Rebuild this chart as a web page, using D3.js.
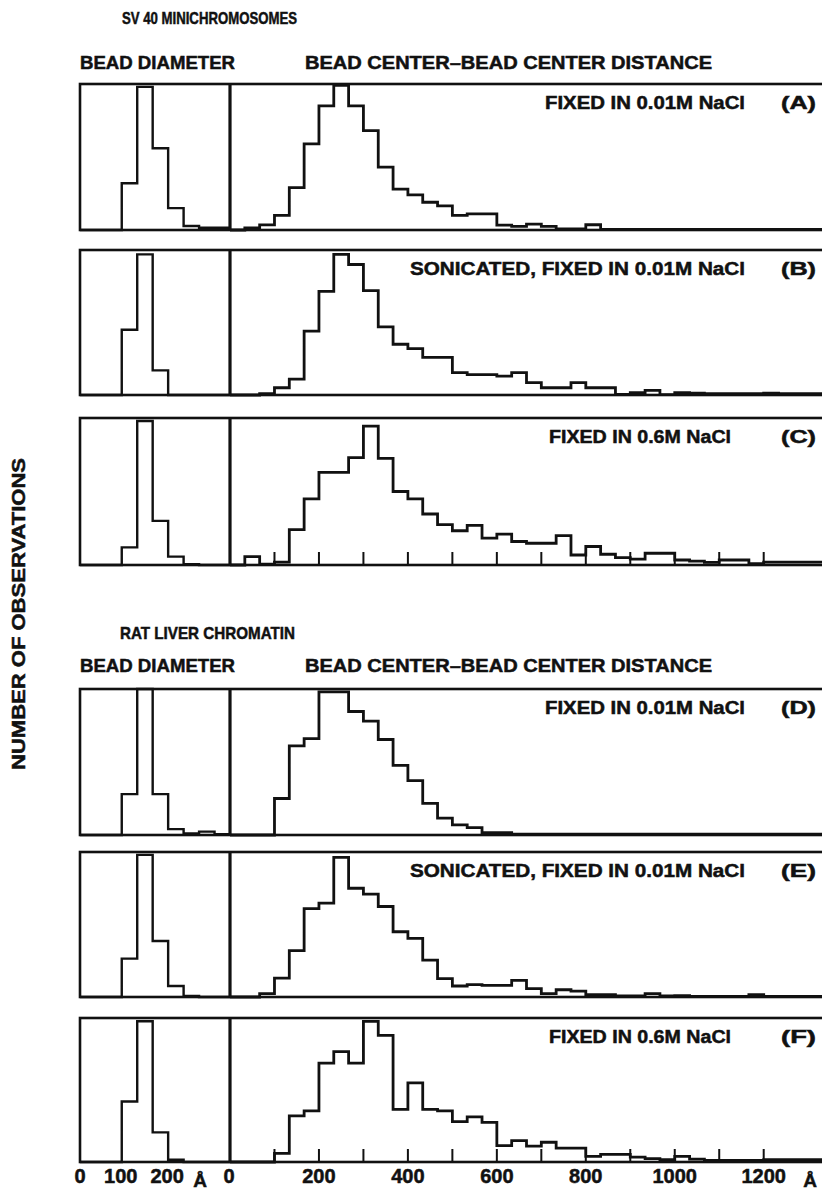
<!DOCTYPE html>
<html>
<head>
<meta charset="utf-8">
<script src="https://cdn.jsdelivr.net/npm/d3@7"></script>
<style>
  body { margin: 0; background: #fff; }
  svg { display: block; }
  text { font-family: "Liberation Sans", Arial, sans-serif; font-weight: bold; fill: #111; stroke: #111; stroke-width: 0.5px; }
</style>
</head>
<body>
<svg id="chart" width="822" height="1192"></svg>
<script>
// bin width in angstrom, both histograms
const BIN = 100 / 3;

// panel names and captions
const panelIds = ['A', 'B', 'C', 'D', 'E', 'F'];
const panelCaptions = [
  'FIXED IN 0.01M NaCl',
  'SONICATED, FIXED IN 0.01M NaCl',
  'FIXED IN 0.6M NaCl',
  'FIXED IN 0.01M NaCl',
  'SONICATED, FIXED IN 0.01M NaCl',
  'FIXED IN 0.6M NaCl'
];

// bead diameter histograms (relative counts, 0-100 of panel height), bins of 33.3 A from 0
const diamA = [0, 0, 0, 32, 98, 56, 15, 2.7, 1.5, 1.5];
const diamB = [0, 0, 0, 45, 97, 17, 0, 0, 0, 0];
const diamC = [0, 0, 0, 12, 98, 30, 5.7, 0.5, 0, 0];
const diamD = [0, 0, 0, 28, 100, 28, 4, 1, 2.3, 0.5];
const diamE = [0, 0, 0, 26.5, 98, 38.6, 7.6, 0.7, 0, 0];
const diamF = [0, 0, 0, 42, 97.7, 20.6, 1.6, 0, 0, 0];

// bead center - bead center distance histograms, bins of 33.3 A from 0
const distA = [0, 1.5, 3.5, 10, 29, 59, 85, 99, 85, 68, 43, 28, 24, 19, 16.5, 10, 11, 11, 3.4, 2.5,
  4, 2.5, 0.7, 0.7, 3.6, 0.4, 0.4, 0.4, 0.4, 0.4, 0.4, 0.4, 0.4, 0.4, 0.4, 0.4, 0.4, 0.4, 0.4, 0.4];
const distB = [0, 0, 1, 5, 11, 44, 71.5, 97, 90, 72, 47, 35, 32, 26, 26, 15.5, 14, 14, 13, 15.5,
  8.5, 5, 5, 8.5, 5, 5, 0.5, 1.6, 3.2, 0.3, 1.6, 1.2, 1, 1, 1, 1, 1.2, 1, 1, 1];
const distC = [0, 5.7, 0.5, 2, 24, 45, 63, 63, 73, 94.5, 72.6, 50, 45, 34.7, 27.4, 23.3, 27, 18.3, 21, 16,
  14.8, 14.8, 20, 6.8, 12.6, 7.3, 5, 4, 8, 8, 3.4, 2.7, 1.8, 3.4, 3.4, 1, 2, 2, 2, 2];
const distD = [0, 0, 0, 25, 61, 66, 98, 98, 84.6, 78, 65.4, 47.7, 37.3, 21.7, 11.5, 7, 5, 1.6, 1.6, 0.5,
  0.5, 0.5, 0.5, 0.5, 0.5, 0.5, 0.5, 0.5, 0.5, 0.5, 0.5, 0.5, 0.5, 0.5, 0.5, 0.5, 0.5, 0.5, 0.5, 0.5];
const distE = [0, 0, 2.3, 13, 32, 61, 64.7, 96.3, 75, 71, 62.4, 45, 40.4, 25.4, 12.7, 7.6, 8.5, 8, 8, 11.5,
  5.8, 2.3, 5, 4, 1.6, 1.6, 0.7, 0.7, 2.3, 0.7, 1, 0.5, 0.5, 0.5, 0.5, 1.6, 0.5, 0.5, 0.5, 0.5];
const distF = [0, 0, 0, 6, 32, 35.5, 68.6, 76.7, 68.6, 97.7, 88, 36.6, 55, 36.6, 35.5, 28, 31.4, 27.5, 11.4, 14.9,
  11, 13.7, 9.6, 9.6, 3.9, 5.3, 5.3, 3.4, 2.3, 1.6, 3.9, 2, 1.1, 1.1, 1.1, 1.1, 1.6, 1.6, 1.6, 1.6];

const diamSeries = [diamA, diamB, diamC, diamD, diamE, diamF];
const distSeries = [distA, distB, distC, distD, distE, distF];

// axis tick labels
const diamTicks = [0, 100, 200];
const distTicks = [0, 200, 400, 600, 800, 1000, 1200];
const distMinorTicks = [100, 200, 300, 400, 500, 600, 700, 800, 900, 1000, 1100, 1200];

// layout
const panelTops = [84, 250, 418, 689, 852, 1018];
const panelBottoms = [230, 395, 565, 835, 997, 1162];
const captionWidths = [200, 335, 182, 200, 335, 182];
const captionEnds = [745, 745, 731, 745, 745, 731];
const LEFT = 80, DIVIDER = 230, RIGHT = 821;

const svg = d3.select('#chart');

const xDiam = d3.scaleLinear().domain([10, 10 * BIN]).range([LEFT, DIVIDER]);
const xDist = d3.scaleLinear().domain([0, 40 * BIN]).range([DIVIDER, 823]);

const defs = svg.append('defs');

// step outline of a histogram
function stepPoints(values) {
  const pts = [[0, 0]];
  values.forEach((v, i) => pts.push([i * BIN, v]));
  pts.push([values.length * BIN, values[values.length - 1]]);
  return pts;
}

// text squeezed/stretched to the width measured on the original
function label(parent, str, x, y, size, width, anchor) {
  const t = parent.append('text')
    .attr('x', x).attr('y', y)
    .attr('text-anchor', anchor || 'start')
    .style('font-size', size + 'px')
    .text(str);
  if (width) t.attr('textLength', width).attr('lengthAdjust', 'spacingAndGlyphs');
  return t;
}

panelIds.forEach((id, i) => {
  const top = panelTops[i];
  const bottom = panelBottoms[i];
  const y = d3.scaleLinear().domain([0, 100]).range([bottom, top]);
  const g = svg.append('g');

  defs.append('clipPath').attr('id', 'clipL' + id)
    .append('rect').attr('x', LEFT).attr('y', top - 2).attr('width', DIVIDER - LEFT).attr('height', bottom - top + 4);
  defs.append('clipPath').attr('id', 'clipR' + id)
    .append('rect').attr('x', DIVIDER).attr('y', top - 2).attr('width', 822 - DIVIDER).attr('height', bottom - top + 4);

  const lineL = d3.line().x(d => xDiam(d[0])).y(d => y(d[1])).curve(d3.curveStepAfter);
  const lineR = d3.line().x(d => xDist(d[0])).y(d => y(d[1])).curve(d3.curveStepAfter);

  g.append('path')
    .attr('d', lineL(stepPoints(diamSeries[i])))
    .attr('clip-path', `url(#clipL${id})`)
    .attr('fill', 'none').attr('stroke', '#111').attr('stroke-width', 2.4);

  g.append('path')
    .attr('d', lineR(stepPoints(distSeries[i])))
    .attr('clip-path', `url(#clipR${id})`)
    .attr('fill', 'none').attr('stroke', '#111').attr('stroke-width', 2.8);

  // tick marks on the bottom panel of each group
  if (i === 2 || i === 5) {
    g.selectAll('line.tick')
      .data(distMinorTicks)
      .join('line')
      .attr('x1', d => xDist(d)).attr('x2', d => xDist(d))
      .attr('y1', bottom).attr('y2', bottom - 13)
      .attr('stroke', '#111').attr('stroke-width', 2);
  }

  // frame
  g.append('rect')
    .attr('x', LEFT).attr('y', top)
    .attr('width', RIGHT - LEFT + 4).attr('height', bottom - top)
    .attr('fill', 'none').attr('stroke', '#111').attr('stroke-width', 2.6);
  g.append('line')
    .attr('x1', DIVIDER).attr('x2', DIVIDER).attr('y1', top).attr('y2', bottom)
    .attr('stroke', '#111').attr('stroke-width', 3.2);

  // caption
  label(g, panelCaptions[i], captionEnds[i], top + 25, 18, captionWidths[i], 'end');
  label(g, `(${id})`, 816, top + 25, 18, 35, 'end');
});

// group headings
const headings = [
  { text: 'SV 40 MINICHROMOSOMES', x: 122, y: 24, size: 17, w: 175 },
  { text: 'BEAD DIAMETER', x: 80, y: 69, size: 18, w: 155 },
  { text: 'BEAD CENTER\u2013BEAD CENTER DISTANCE', x: 305, y: 69, size: 18, w: 407 },
  { text: 'RAT LIVER CHROMATIN', x: 120, y: 639, size: 17, w: 175 },
  { text: 'BEAD DIAMETER', x: 80, y: 672, size: 18, w: 155 },
  { text: 'BEAD CENTER\u2013BEAD CENTER DISTANCE', x: 305, y: 672, size: 18, w: 407 }
];
const headG = svg.append('g');
headings.forEach(h => label(headG, h.text, h.x, h.y, h.size, h.w));

// y axis title
label(svg, 'NUMBER OF OBSERVATIONS', 0, 0, 18, 312, 'middle')
  .attr('transform', 'translate(25,614) rotate(-90)');

// bottom tick labels
const axisY = 1183;
const axisG = svg.append('g');
diamTicks.forEach((d, i) => {
  label(axisG, String(d), i === 0 ? LEFT : xDiam(d) - 1, axisY, 20, null, 'middle');
});
distTicks.forEach(d => {
  label(axisG, String(d), d === 0 ? DIVIDER - 1 : xDist(d), axisY, 20, null, 'middle');
});
[200, 810].forEach(x => label(axisG, '\u00c5', x, axisY + 4, 19, null, 'middle'));
</script>
</body>
</html>
